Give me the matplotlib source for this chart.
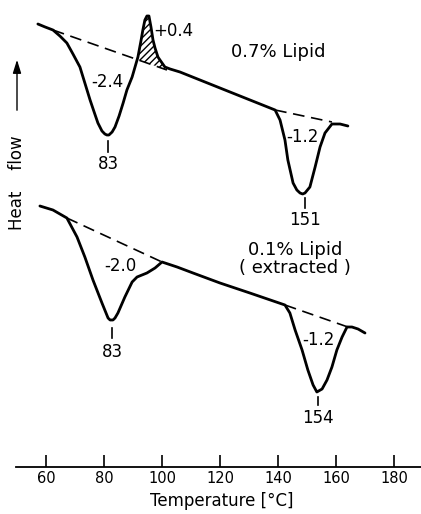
import matplotlib
matplotlib.use("Agg")
import matplotlib.pyplot as plt
import numpy as np

plt.rcParams['font.family'] = ['DejaVu Sans']

# ---- data (temperature in °C, heat flow in arbitrary units) ----
upper_T = [57.2, 59.7, 62.4, 64.8, 67.2, 69.3, 71.7, 73.4, 75.2, 76.6, 77.9, 79.3, 80.3,
           81.0, 81.7, 82.8, 83.8, 85.2, 86.6, 87.9, 89.7, 90.7, 91.7, 92.8, 93.4, 94.1,
           94.8, 95.5, 96.2, 96.9, 97.6, 98.6, 99.3, 101.0, 102.8, 106.2, 113.1, 120.0,
           126.9, 139.0, 140.7, 142.4, 143.4, 145.2, 146.5, 147.6, 148.5, 149.3, 151.0,
           152.8, 154.5, 156.2, 158.6, 161.4, 164.1]
upper_H = [49.0, 48.7, 48.4, 47.8, 47.1, 46.0, 44.7, 43.1, 41.4, 40.2, 39.1, 38.3, 38.0,
           37.9, 37.9, 38.2, 38.7, 39.8, 41.1, 42.4, 43.7, 44.7, 45.7, 47.4, 48.4, 49.4,
           49.8, 49.8, 48.7, 47.4, 46.6, 45.7, 45.4, 44.7, 44.5, 44.2, 43.4, 42.6,
           41.8, 40.4, 39.4, 37.4, 35.4, 33.1, 32.4, 32.1, 32.0, 32.1, 32.7,
           34.7, 36.7, 38.1, 39.0, 39.0, 38.8]
upper_base1_T = [62.4, 101.7]
upper_base1_H = [48.4, 44.4]
upper_base2_T = [139.0, 158.6]
upper_base2_H = [40.4, 39.2]

lower_T = [57.9, 62.4, 67.2, 70.7, 73.4, 76.2, 79.3, 81.4, 82.1, 83.1, 83.8, 84.8, 87.2,
           89.7, 91.4, 94.8, 97.6, 100.0, 105.2, 110.7, 120.0, 130.3, 142.4, 144.1, 145.9,
           148.3, 150.3, 152.1, 153.4, 155.2, 156.9, 158.6, 160.3, 162.1, 163.8, 165.5,
           167.6, 170.0]
lower_H = [30.8, 30.4, 29.6, 27.7, 25.7, 23.4, 21.1, 19.6, 19.4, 19.4, 19.6, 20.1, 21.7,
           23.2, 23.7, 24.1, 24.6, 25.2, 24.7, 24.1, 23.1, 22.1, 20.9, 20.1, 18.4,
           16.4, 14.4, 12.9, 12.2, 12.5, 13.4, 14.7, 16.4, 17.7, 18.7, 18.7,
           18.5, 18.1]
lower_base1_T = [67.2, 100.0]
lower_base1_H = [29.6, 25.2]
lower_base2_T = [142.4, 164.1]
lower_base2_H = [20.9, 18.7]

xticks = [60, 80, 100, 120, 140, 160, 180]
xtick_labels = ['60', '80', '100', '120', '140', '160', '180']

# ---- figure ----
fig = plt.figure(figsize=(4.21, 5.14), dpi=100)
ax = fig.add_axes([0, 47 / 514, 1, 467 / 514])
ax.set_xlim(44.14, 189.31)
ax.set_ylim(4.7, 51.4)

lw = 2.0
dash = dict(color='black', lw=1.2, ls=(0, (7, 4)))

ax.plot(upper_T, upper_H, color='black', lw=lw, solid_capstyle='round',
        solid_joinstyle='round', zorder=3)
ax.plot(upper_base1_T, upper_base1_H, **dash)
ax.plot(upper_base2_T, upper_base2_H, **dash)
ax.plot(lower_T, lower_H, color='black', lw=lw, solid_capstyle='round',
        solid_joinstyle='round', zorder=3)
ax.plot(lower_base1_T, lower_base1_H, **dash)
ax.plot(lower_base2_T, lower_base2_H, **dash)

# hatched exotherm area above the baseline
uT = np.array(upper_T)
uH = np.array(upper_H)
base = np.interp(uT, upper_base1_T, upper_base1_H)
mask = (uT >= 91.5) & (uT <= 101.7)
plt.rcParams['hatch.linewidth'] = 1.0
ax.fill_between(uT[mask], base[mask], uH[mask], where=uH[mask] >= base[mask],
                facecolor='none', edgecolor='black', hatch='/////', lw=0, interpolate=True)

# annotations
fs = 12
ax.text(81.0, 43.2, '-2.4', fontsize=fs, ha='center', va='center')
ax.text(103.8, 48.3, '+0.4', fontsize=fs, ha='center', va='center')
ax.plot([81.4, 81.4], [37.3, 36.2], color='black', lw=1.2)
ax.text(81.4, 35.0, '83', fontsize=fs, ha='center', va='center')
ax.text(148.3, 37.7, '-1.2', fontsize=fs, ha='center', va='center')
ax.plot([149.3, 149.3], [31.6, 30.6], color='black', lw=1.2)
ax.text(149.3, 29.4, '151', fontsize=fs, ha='center', va='center')
ax.text(140.0, 46.2, '0.7% Lipid', fontsize=13, ha='center', va='center')

ax.text(145.9, 26.4, '0.1% Lipid', fontsize=13, ha='center', va='center')
ax.text(145.9, 24.6, '( extracted )', fontsize=13, ha='center', va='center')
ax.text(85.5, 24.8, '-2.0', fontsize=fs, ha='center', va='center')
ax.plot([82.8, 82.8], [18.6, 17.6], color='black', lw=1.2)
ax.text(82.8, 16.2, '83', fontsize=fs, ha='center', va='center')
ax.text(153.8, 17.4, '-1.2', fontsize=fs, ha='center', va='center')
ax.plot([153.8, 153.8], [11.7, 10.9], color='black', lw=1.2)
ax.text(153.8, 9.6, '154', fontsize=fs, ha='center', va='center')

# axes styling
for s in ['top', 'right', 'left']:
    ax.spines[s].set_visible(False)
ax.spines['bottom'].set_bounds(49.7, 189.31)
ax.spines['bottom'].set_linewidth(1.3)
ax.set_yticks([])
ax.set_xticks(xticks)
ax.set_xticklabels(xtick_labels)
ax.tick_params(axis='x', direction='in', length=9, width=1.2, pad=3, labelsize=10.5)
ax.text(120.7, 1.35, 'Temperature [°C]', fontsize=12, ha='center', va='center', clip_on=False)

# y label with arrow
fig.text(17, 514 - 183, 'Heat    flow', fontsize=12, rotation=90, ha='center', va='center',
         transform=None)
ax.annotate('', xy=(17, 514 - 57), xytext=(17, 514 - 113), xycoords='figure pixels',
            textcoords='figure pixels',
            arrowprops=dict(arrowstyle='-|>,head_length=0.8,head_width=0.25', color='black', lw=1.0))

fig.savefig('out.png', dpi=100)
